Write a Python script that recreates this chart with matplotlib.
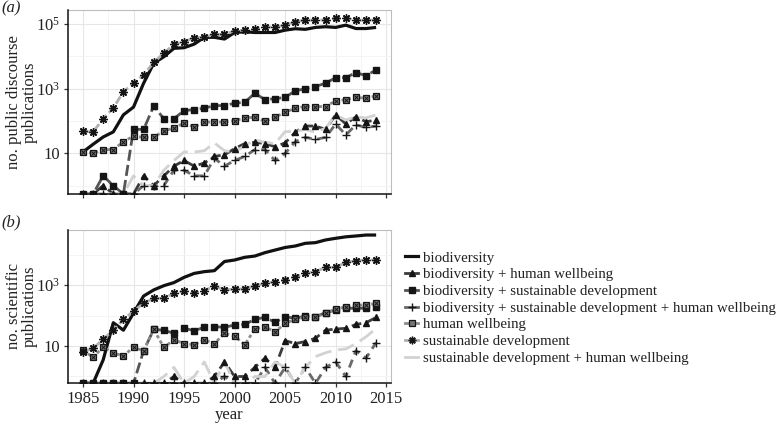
import numpy as np
import matplotlib
matplotlib.use('Agg')
import matplotlib.pyplot as plt
from matplotlib.lines import Line2D

plt.rcParams['font.family'] = ['Liberation Serif', 'DejaVu Serif']
plt.rcParams['mathtext.fontset'] = 'custom'
plt.rcParams['mathtext.rm'] = 'Liberation Serif'
plt.rcParams['mathtext.it'] = 'Liberation Serif:italic'

years = list(range(1985, 2015))

labels = ['biodiversity',
          'biodiversity + human wellbeing',
          'biodiversity + sustainable development',
          'biodiversity + sustainable development + human wellbeing',
          'human wellbeing',
          'sustainable development',
          'sustainable development + human wellbeing']

# (a) public discourse counts, 0 = none
pub_bio = [11, 19, 32, 46, 155, 270, 1480, 6100, 9800, 17800, 18600, 24000, 39000, 39000, 34500,
           55000, 58000, 55000, 55000, 55000, 65000, 72000, 69000, 79000, 83000, 79000, 93000, 73000, 73000, 79000]
pub_bio_hw = [0, 0, 1, 0, 0, 0, 2, 1, 2, 4, 6, 4, 5, 8, 9,
              14, 20, 22, 20, 16, 21, 45, 70, 70, 55, 155, 81, 135, 95, 107]
pub_bio_sd = [0, 0, 2, 1, 0, 55, 55, 290, 118, 118, 210, 225, 250, 300, 300,
              355, 380, 720, 460, 490, 540, 860, 1000, 1170, 1480, 2200, 2200, 3150, 2550, 3800]
pub_bio_sd_hw = [0, 0, 0, 0, 0, 0, 1, 1, 1, 3, 3, 2, 2, 7, 4,
                 6, 8, 13, 13, 6, 10, 23, 31, 27, 31, 81, 37, 76, 63, 70]
pub_hw = [11, 10, 13, 13, 23, 34, 31, 31, 50, 60, 87, 65, 93, 93, 93,
          103, 124, 132, 97, 132, 187, 250, 280, 280, 280, 425, 455, 535, 510, 600]
pub_sd = [48, 46, 117, 250, 810, 1480, 2700, 6500, 12600, 23600, 28500, 38000, 39000, 48000, 48000,
          62000, 65000, 70000, 83000, 79000, 93000, 118000, 133000, 133000, 133000, 150000, 150000, 133000, 133000, 133000]
pub_sd_hw = [0, 0, 0, 0, 0, 2, 1, 1, 3, 6, 11, 11, 12, 21, 12,
             11, 17, 26, 22, 20, 47, 47, 55, 45, 60, 154, 107, 135, 125, 154]

# (b) scientific publication counts
sci_bio = [0, 0, 3.5, 58, 33, 120, 435, 690, 950, 1200, 1780, 2400, 2740, 2950, 5900,
           6600, 8100, 8900, 11500, 14000, 17000, 19000, 23300, 24500, 30000, 34000, 38000, 40500, 43500, 43500]
sci_bio_hw = [0, 0, 0, 0, 0, 0, 0, 0, 0, 1, 0, 0, 0, 1, 3,
              1, 1, 2, 4, 2, 15, 12, 14, 18, 33, 36, 38, 51, 58, 87]
sci_bio_sd = [0, 0, 0, 0, 0, 0, 7, 35, 33, 26, 38, 32, 41, 43, 41,
              49, 51, 75, 87, 60, 91, 81, 96, 91, 124, 150, 173, 173, 173, 194]
sci_bio_sd_hw = [0, 0, 0, 0, 0, 0, 0, 0, 0, 0, 0, 0, 0, 0, 1,
                 0, 0, 0, 2, 0, 2, 0, 2, 0, 2, 3, 1, 7, 4, 13]
sci_hw = [7.4, 4.2, 9.5, 5.8, 4.8, 9, 7, 35, 9, 16, 12, 11, 16, 12, 26,
          21, 11, 36, 43, 29, 55, 75, 91, 87, 124, 160, 194, 220, 220, 250]
sci_sd = [6.5, 8.3, 16.6, 33, 74, 140, 250, 365, 365, 535, 635, 560, 650, 930, 690,
          740, 740, 930, 1130, 1285, 1460, 1870, 2400, 2740, 3800, 3800, 5500, 6300, 6600, 6600]
sci_sd_hw = [0, 0, 0, 0, 0, 0, 0, 0, 1, 2, 0, 1, 3, 0, 3,
             0, 0, 1, 1, 3, 2, 0, 2, 4.5, 6, 7.4, 8, 12, 20, 38]

pub_series = [pub_bio, pub_bio_hw, pub_bio_sd, pub_bio_sd_hw, pub_hw, pub_sd, pub_sd_hw]
sci_series = [sci_bio, sci_bio_hw, sci_bio_sd, sci_bio_sd_hw, sci_hw, sci_sd, sci_sd_hw]

# line colour, dashes, marker
styles = [
    dict(color='#111111', dashes=None, marker=None),
    dict(color='#3c3c3c', dashes=(3.5, 1.8), marker='^'),
    dict(color='#555555', dashes=(4, 1.5), marker='s'),
    dict(color='#6a6a6a', dashes=(3, 2), marker='+'),
    dict(color='#8c8c8c', dashes=(1.2, 1.0), marker='boxx'),
    dict(color='#b0b0b0', dashes=(3, 1.2), marker=(8, 2, 0)),
    dict(color='#d2d2d2', dashes=(6, 2.5), marker=None),
]


def draw_marker(ax, x, y, m, clip=True, zo=4):
    if m is None:
        return
    if m == 'boxx':
        ax.plot(x, y, ls='none', marker='s', ms=4.0, mfc='#777777', mec='#151515', mew=0.9, clip_on=clip, zorder=zo)
        ax.plot(x, y, ls='none', marker='x', ms=2.8, mec='#151515', mew=0.7, clip_on=clip, zorder=zo + 0.1)
    elif m == '^':
        ax.plot(x, y, ls='none', marker='^', ms=4.2, color='#151515', clip_on=clip, zorder=zo)
    elif m == 's':
        ax.plot(x, y, ls='none', marker='s', ms=3.8, color='#151515', clip_on=clip, zorder=zo)
    elif m == '+':
        ax.plot(x, y, ls='none', marker='+', ms=6.0, mew=1.0, color='#151515', clip_on=clip, zorder=zo)
    else:
        ax.plot(x, y, ls='none', marker=m, ms=6.0, mew=1.0, color='#151515', clip_on=clip, zorder=zo)


def panel(ax, series, ylo, yhi, ticks, ticklabels, minor):
    for vals, st in zip(series, styles):
        v = np.array(vals, dtype=float)
        v = np.where(v > 0, v, ylo)  # zeros sit on the panel floor, like -Inf in ggplot
        lw = 2.3 if st['dashes'] is None else 2.0
        ln, = ax.plot(years, v, color=st['color'], lw=lw, zorder=3, solid_capstyle='butt')
        if st['dashes'] is not None:
            ln.set_dashes(st['dashes'])
        draw_marker(ax, years, v, st['marker'])
    ax.set_yscale('log')
    ax.set_ylim(ylo, yhi)
    ax.set_xlim(1983.55, 2015.45)
    ax.set_xticks([1985, 1990, 1995, 2000, 2005, 2010, 2015])
    ax.set_xticks([1987.5, 1992.5, 1997.5, 2002.5, 2007.5, 2012.5], minor=True)
    ax.set_yticks(ticks, labels=ticklabels)
    ax.set_yticks(minor, minor=True)
    ax.yaxis.set_minor_formatter(plt.NullFormatter())
    ax.grid(True, which='major', color='#e6e6e6', lw=0.8, zorder=0)
    ax.grid(True, which='minor', color='#f3f3f3', lw=0.6, zorder=0)
    ax.set_axisbelow(True)
    ax.tick_params(which='major', length=3.2, width=0.9, color='#333333', labelsize=12, pad=2.5,
                   labelcolor='#222222')
    ax.tick_params(which='minor', length=0)
    for s in ['top', 'right']:
        ax.spines[s].set_color('#bdbdbd')
        ax.spines[s].set_linewidth(0.8)
    for s in ['left', 'bottom']:
        ax.spines[s].set_color('#111111')
        ax.spines[s].set_linewidth(1.1)
        ax.spines[s].set_zorder(5)


W, H = 779, 425
fig = plt.figure(figsize=(W / 100, H / 100), dpi=100)
ax1 = fig.add_axes([68.3 / W, 1 - 194 / H, 322.5 / W, 184 / H])
ax2 = fig.add_axes([68.3 / W, 1 - 383.3 / H, 322.5 / W, 153.8 / H])

panel(ax1, pub_series, 10 ** -0.26, 10 ** 5.437, [10, 1e3, 1e5], ['10', r'$10^3$', r'$10^5$'], [1, 100, 1e4])
panel(ax2, sci_series, 10 ** -0.223, 10 ** 4.82, [10, 1e3], ['10', r'$10^3$'], [1, 100, 1e4])
ax1.tick_params(axis='x', labelbottom=False)
ax2.set_xlabel('year', fontsize=12, labelpad=0, color='#222222')

fig.text(22 / W, 1 - 102 / H, 'no. public discourse\npublications', rotation=90, ha='center', va='center',
         fontsize=12, linespacing=1.0, color='#222222')
fig.text(22 / W, 1 - 306 / H, 'no. scientific\npublications', rotation=90, ha='center', va='center',
         fontsize=12, linespacing=1.0, color='#222222')
fig.text(1 / W, 1 - 8 / H, '(a)', style='italic', fontsize=12, ha='left', va='center', color='#222222')
fig.text(1 / W, 1 - 222 / H, '(b)', style='italic', fontsize=12, ha='left', va='center', color='#222222')

# legend
handles = []
for st in styles:
    m = st['marker']
    kw = dict(color=st['color'], lw=2.3 if st['dashes'] is None else 2.0)
    if m == 'boxx':
        kw.update(marker='s', ms=3.8, mfc='#777777', mec='#151515', mew=0.9)
    elif m is not None:
        kw.update(marker=m, ms=4.0 if m in ('^', 's') else 5.5, mfc='#151515', mec='#151515', mew=1.0)
    handles.append(Line2D([], [], **kw))
fig.legend(handles, labels, loc='center left', bbox_to_anchor=(405 / W, 1 - 308 / H), frameon=False,
           fontsize=10.7, handlelength=0.9, handletextpad=0.3, labelspacing=0.22, borderpad=0,
           borderaxespad=0, labelcolor='#222222')

fig.savefig('out.png', dpi=100)
